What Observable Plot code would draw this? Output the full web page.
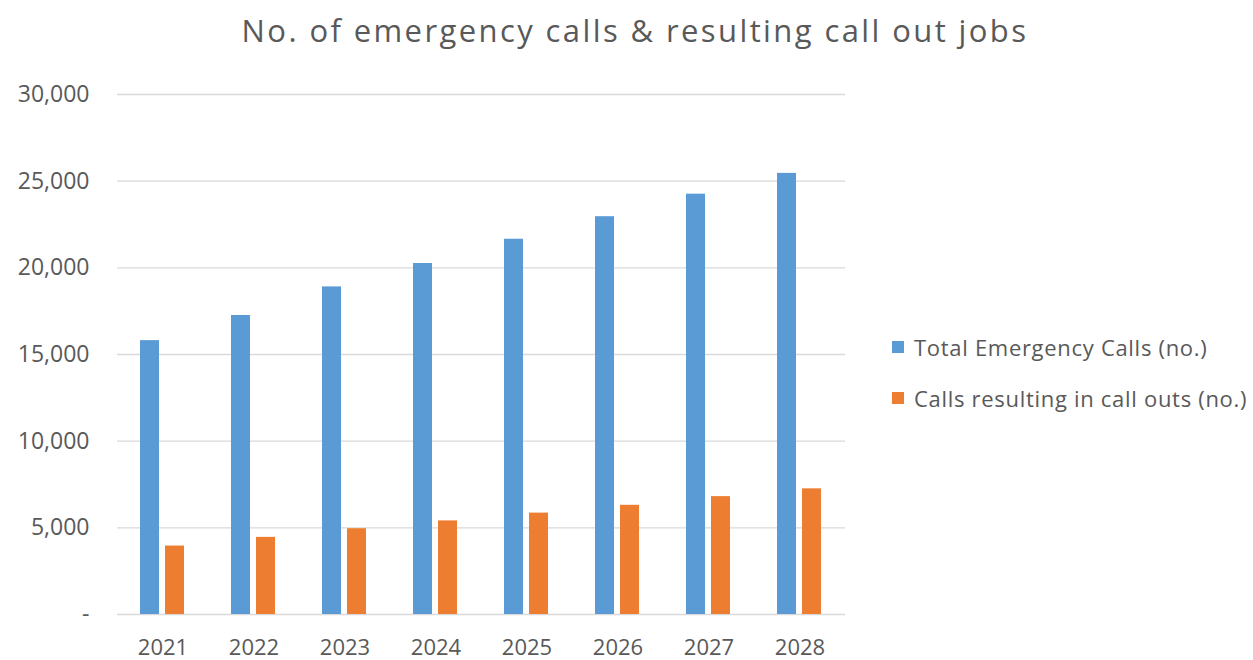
<!DOCTYPE html>
<html><head><meta charset="utf-8">
<script src="https://cdn.jsdelivr.net/npm/d3@7"></script>
<script src="https://cdn.jsdelivr.net/npm/@observablehq/plot@0.6"></script>
<style>
body{margin:0;background:#fff;}
#wrap{position:relative;width:1253px;height:660px;font-family:"Open Sans",sans-serif;color:#595959;overflow:hidden;}
#title{position:absolute;left:0;width:1270px;top:8px;text-align:center;font-size:31px;line-height:44px;letter-spacing:2.4px;white-space:nowrap;}
#legend{position:absolute;left:892px;top:333px;font-size:22px;line-height:28px;letter-spacing:0.7px;}
.item{display:flex;align-items:center;height:28px;margin-bottom:23px;white-space:nowrap;}
.sw{display:inline-block;width:12px;height:12px;margin-right:10px;}
</style></head>
<body><div id="wrap"><div id="title"></div><div id="legend"></div></div>
<script>
const titleText = "No. of emergency calls & resulting call out jobs";
const years = ["2021","2022","2023","2024","2025","2026","2027","2028"];
const seriesNames = ["Total Emergency Calls (no.)", "Calls resulting in call outs (no.)"];
const seriesColors = ["#5B9BD5", "#ED7D31"];
const totalCalls = [15800, 17250, 18900, 20250, 21650, 22950, 24250, 25450];
const callOuts = [3950, 4450, 4950, 5400, 5850, 6300, 6800, 7250];
const yTicks = [0, 5000, 10000, 15000, 20000, 25000, 30000];

const rows = years.flatMap((yr, i) => [
  {year: yr, series: seriesNames[0], value: totalCalls[i]},
  {year: yr, series: seriesNames[1], value: callOuts[i]}
]);

const fmt = d3.format(",");
const chart = Plot.plot({
  width: 1253, height: 660,
  marginLeft: 113, marginRight: 405, marginTop: 94, marginBottom: 46,
  style: {fontFamily: "Open Sans, sans-serif", fontSize: "22px", color: "#595959", background: "white"},
  fx: {domain: years, paddingInner: 0, paddingOuter: 0, label: null, axis: null},
  x: {domain: seriesNames, axis: null, paddingInner: 0.23, paddingOuter: 0.88},
  y: {domain: [0, 30000], axis: null},
  color: {domain: seriesNames, range: seriesColors},
  marks: [
    Plot.gridY(yTicks, {stroke: "#d9d9d9", strokeOpacity: 1, strokeWidth: 1.3}),
    Plot.barY(rows, {fx: "year", x: "series", y: "value", fill: "series"}),
    Plot.axisFx({anchor: "bottom", tickSize: 0, tickPadding: 25, label: null, fill: "#595959", fontSize: "22px"}),
    Plot.axisY(yTicks, {anchor: "left", tickSize: 0, tickPadding: 28, label: null, fill: "#595959", fontSize: "23px",
      tickFormat: d => d === 0 ? "-" : fmt(d)})
  ]
});
document.getElementById("wrap").prepend(chart);
document.getElementById("title").textContent = titleText;
const legend = document.getElementById("legend");
seriesNames.forEach((s, i) => {
  const it = document.createElement("div");
  it.className = "item";
  const sw = document.createElement("span");
  sw.className = "sw"; sw.style.background = seriesColors[i];
  it.appendChild(sw);
  it.appendChild(document.createTextNode(s));
  legend.appendChild(it);
});
</script></body></html>
